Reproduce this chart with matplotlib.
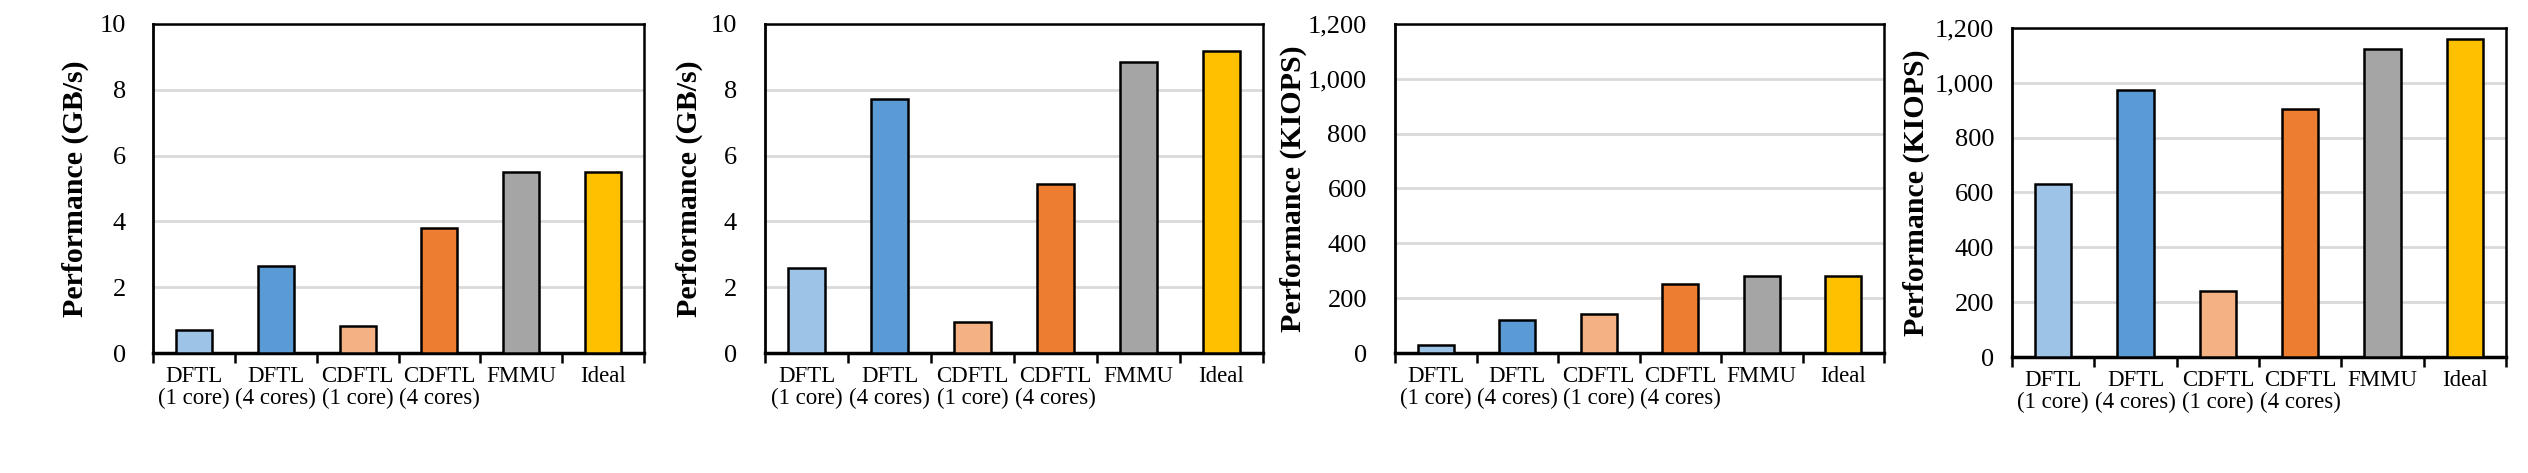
import matplotlib
matplotlib.use("Agg")
import matplotlib.pyplot as plt
from matplotlib.ticker import FuncFormatter

categories = ["DFTL\n(1 core)", "DFTL\n(4 cores)", "CDFTL\n(1 core)",
              "CDFTL\n(4 cores)", "FMMU", "Ideal"]
colors = ["#9DC3E6", "#5B9BD5", "#F4B183", "#ED7D31", "#A5A5A5", "#FFC000"]

seq_read_gbs = [0.69, 2.65, 0.81, 3.79, 5.49, 5.49]
seq_write_gbs = [2.59, 7.72, 0.94, 5.13, 8.86, 9.17]
rand_read_kiops = [30, 122, 143, 250, 280, 280]
rand_write_kiops = [631, 973, 242, 905, 1123, 1161]

plt.rcParams["font.family"] = ["Liberation Serif", "DejaVu Serif"]

W, H = 2528, 473
# (left, right, top, bottom) in pixels, y tick pad (px), ylabel offset (px)
boxes = [(153, 644, 24, 353, 27, 64), (765, 1263, 24, 353, 28, 62),
         (1395, 1884, 24, 353, 28, 88), (2012, 2506, 28, 357, 18, 82)]
panels = [
    (seq_read_gbs, "Performance (GB/s)", 10, 2),
    (seq_write_gbs, "Performance (GB/s)", 10, 2),
    (rand_read_kiops, "Performance (KIOPS)", 1200, 200),
    (rand_write_kiops, "Performance (KIOPS)", 1200, 200),
]

fig = plt.figure(figsize=(W / 100, H / 100), dpi=100)

for (l, r, t, b, tpad, loff), (vals, ylabel, ymax, step) in zip(boxes, panels):
    ax = fig.add_axes([l / W, 1 - b / H, (r - l) / W, (b - t) / H])
    x = range(len(categories))
    ax.bar(x, vals, width=0.44, color=colors, edgecolor="black",
           linewidth=1.8, zorder=3)
    ax.set_xlim(-0.5, len(categories) - 0.5)
    ax.set_ylim(0, ymax)
    ax.set_yticks(range(0, ymax + 1, step))
    ax.yaxis.set_major_formatter(FuncFormatter(lambda v, p: f"{int(v):,}"))
    ax.yaxis.grid(True, color="#d9d9d9", linewidth=2, zorder=0)
    ax.tick_params(axis="y", length=0, pad=tpad * 0.72, labelsize=19)

    # category boundaries get tick marks, names sit between them
    ax.set_xticks([i + 0.5 for i in range(-1, len(categories))])
    ax.set_xticklabels([])
    ax.set_xticks(list(x), minor=True)
    ax.set_xticklabels(categories, minor=True, fontsize=16.5, linespacing=1.1)
    ax.tick_params(axis="x", which="major", direction="out", length=7,
                   width=1.8)
    ax.tick_params(axis="x", which="minor", length=0, pad=9)

    for s in ["top", "right"]:
        ax.spines[s].set_linewidth(1.8)
    ax.spines["left"].set_linewidth(2)
    ax.spines["bottom"].set_linewidth(2.5)
    ax.set_ylabel(ylabel, fontsize=21.5, fontweight="bold")
    ax.yaxis.set_label_coords(-loff / (r - l), 0.5)

fig.savefig("out.png", dpi=100)
